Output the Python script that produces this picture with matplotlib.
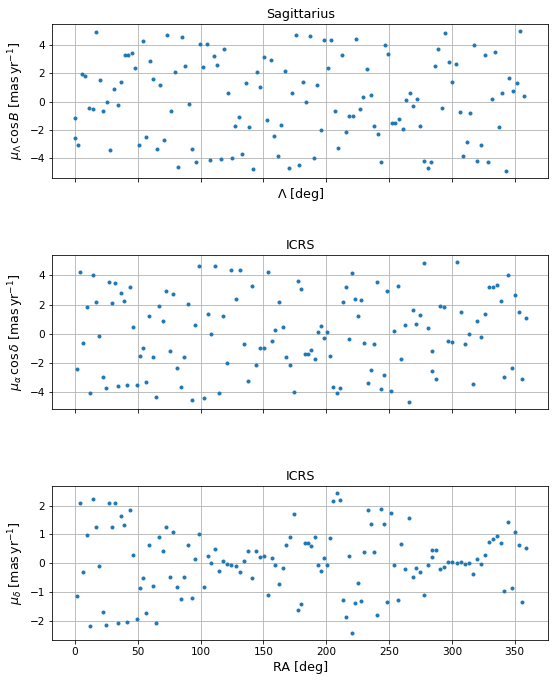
import numpy as np
import matplotlib
matplotlib.use('Agg')
import matplotlib.pyplot as plt

plt.rcParams['font.size'] = 10.5
plt.rcParams['axes.labelsize'] = 'large'
plt.rcParams['axes.titlesize'] = 'large'

# Sagittarius frame: Lambda positions (deg) and proper motion along Lambda
sgr_lambda = [
    0.00, 2.83, 5.67, 8.50, 11.34, 14.17, 17.01, 19.84, 22.68, 25.51,
    28.35, 31.18, 34.02, 36.85, 39.69, 42.52, 45.35, 48.19, 51.02, 53.86,
    56.69, 59.53, 62.36, 65.20, 68.03, 70.87, 73.70, 76.54, 79.37, 82.20,
    85.04, 87.87, 90.71, 93.54, 96.38, 99.21, 102.05, 104.88, 107.72, 110.55,
    113.39, 116.22, 119.06, 121.89, 124.72, 127.56, 130.39, 133.23, 136.06, 138.90,
    141.73, 144.57, 147.40, 150.24, 153.07, 155.91, 158.74, 161.57, 164.41, 167.24,
    170.08, 172.91, 175.75, 178.58, 181.42, 184.25, 187.09, 189.92, 192.76, 195.59,
    198.43, 201.26, 204.09, 206.93, 209.76, 212.60, 215.43, 218.27, 221.10, 223.94,
    226.77, 229.61, 232.44, 235.28, 238.11, 240.94, 243.78, 246.61, 249.45, 252.28,
    255.12, 257.95, 260.79, 263.62, 266.46, 269.29, 272.13, 274.96, 277.80, 280.63,
    283.46, 286.30, 289.13, 291.97, 294.80, 297.64, 300.47, 303.31, 306.14, 308.98,
    311.81, 314.65, 317.48, 320.31, 323.15, 325.98, 328.82, 331.65, 334.49, 337.32,
    340.16, 342.99, 345.83, 348.66, 351.50, 354.33, 357.17, 0.00,
]
sgr_pm_lambda = [
    -1.18, -3.10, 1.96, 1.80, -0.47, -0.54, 4.92, 1.51, -0.69, -0.05,
    -3.46, 0.88, -0.26, 1.37, 3.29, 3.29, 3.43, 2.37, -3.10, 4.28,
    -2.53, 2.86, 1.59, -3.38, 1.16, -2.75, 4.71, -0.69, 2.08, -4.66,
    4.57, 2.51, -0.19, -3.38, -4.31, 4.07, 2.44, 4.07, -4.17, 3.22,
    2.58, -4.09, 3.72, 0.59, -4.02, -1.75, -1.11, -3.74, 1.30, -1.82,
    -4.80, 2.08, 1.02, 3.15, -1.33, 2.93, -2.46, -3.88, -1.68, 2.15,
    -4.73, 0.59, 4.71, -4.52, 1.37, -0.05, 4.64, -4.02, 1.16, -2.04,
    4.36, 2.37, 4.36, -0.69, -3.31, 3.29, -2.18, -1.04, -1.04, 4.43,
    -0.54, 0.31, 2.30, 0.45, -1.75, -2.32, -4.31, 4.00, 3.36, -1.54,
    -1.54, -1.25, -1.96, 0.09, 0.59, -0.33, 0.17, -1.75, -4.24, -4.73,
    -4.31, 2.51, 3.72, -0.47, 4.85, 2.79, 1.37, 2.65, -0.76, -3.88,
    -2.89, -0.83, 4.00, -4.24, -3.10, 3.29, -4.31, 0.17, 3.50, -1.82,
    0.59, -4.95, 1.66, 0.73, 1.30, 4.99, 0.38, -2.60,
]

# same stars in ICRS
icrs_ra = [
    1.6, 4.0, 6.3, 9.5, 11.9, 14.3, 16.7, 19.0, 22.2, 24.6,
    27.0, 29.4, 31.7, 34.1, 36.5, 38.9, 41.3, 43.7, 46.0, 49.2,
    51.6, 54.0, 56.3, 58.7, 61.9, 64.3, 66.7, 69.8, 72.2, 75.4,
    77.8, 81.0, 84.1, 86.5, 89.7, 92.9, 96.0, 99.2, 102.4, 105.6,
    108.7, 111.9, 114.8,
    118.0, 121.2, 124.4, 128.4, 131.6, 134.8, 138.0, 141.2, 144.4, 147.6,
    150.8, 154.0, 157.2, 159.6, 162.8, 166.0, 168.4, 171.6, 174.0, 177.2,
    179.6, 182.8, 185.2, 187.6, 190.8, 193.2, 195.6, 198.0, 200.4, 202.8,
    205.2, 208.4, 210.8, 213.2, 215.6, 218.0, 220.4, 222.8, 225.2, 227.6,
    230.0, 233.2, 235.6, 238.0, 240.4, 243.6, 246.0, 248.4,
    251.6, 254.0, 257.1, 259.5, 262.7, 265.9, 269.0, 271.4, 274.6, 277.8,
    281.0, 284.1, 284.1, 287.3, 290.5, 293.7, 296.8, 300.0, 304.0, 307.1,
    310.3, 313.5, 316.7, 319.8, 323.0, 326.2, 329.4, 332.5, 335.7, 338.9,
    341.3, 344.4, 347.6, 350.0, 353.2, 355.6, 358.7,
]
icrs_pm_ra_cosdec = [
    -2.42, 4.22, -0.64, 1.82, -4.06, 4.01, 2.17, -0.16, -2.96, -3.72,
    3.53, 2.10, 3.46, -3.58, 2.78, 2.23, -3.51, 3.19, 0.46, -3.51,
    -1.53, -0.98, -3.30, 1.21, -1.60, -4.33, 1.89, 0.87, 2.92, -1.19,
    2.71, -2.35, -3.65, -1.60, 2.03, -4.54, 0.59, 4.63, -4.40, 1.34,
    -0.02, 4.63, -4.06,
    1.21, -2.00, 4.35, 2.37, 4.35, -0.71, -3.24, 3.26, -2.14, -0.98,
    -0.98, 4.22, -0.50, 0.25, 2.17, 0.46, -1.60, -2.14, -3.99, 3.60,
    3.05, -1.39, -1.39, -1.12, -1.73, 0.11, 0.52, -0.30, 0.11, -1.53,
    -3.65, -4.06, -3.72, 2.17, 3.19, -0.36, 4.15, 2.37, 1.21, 2.30,
    -0.64, -3.37, -2.48, -0.71, 3.53, -3.78, -2.82, 2.92,
    -3.92, 0.18, 3.26, -1.73, 0.59, -4.67, 1.62, 0.66, 1.28, 4.83,
    0.39, -1.19, -2.55, -3.10, 1.89, 1.82, -0.50, -0.57, 4.90, 1.48,
    -0.71, -0.02, -3.44, 0.87, -0.23, 1.34, 3.19, 3.19, 3.33, 2.23,
    -2.96, 4.01, -2.35, 2.64, 1.48, -3.10, 1.07,
]
icrs_pm_dec = [
    -1.13, 2.09, -0.30, 0.98, -2.17, 2.22, 1.26, -0.09, -1.68, -2.13,
    2.09, 1.26, 2.09, -2.06, 1.64, 1.33, -2.03, 1.84, 0.29, -1.93,
    -0.85, -0.51, -1.72, 0.63, -0.78, -2.06, 0.91, 0.43, 1.26, -0.47,
    1.08, -0.82, -1.23, -0.47, 0.63, -1.20, 0.15, 1.01, -0.82, 0.25,
    0.01, 0.50, -0.27,
    0.08, -0.02, -0.06, -0.09, -0.30, 0.08, 0.43, -0.51, 0.43, 0.22,
    0.25, -1.10, 0.18, -0.06, -0.71, -0.16, 0.63, 0.91, 1.71, -1.61,
    -1.41, 0.70, 0.70, 0.60, 0.91, -0.06, -0.27, 0.18, -0.06, 0.88,
    2.16, 2.43, 2.19, -1.27, -1.86, 0.25, -2.41, -1.37, -0.68, -1.30,
    0.39, 1.84, 1.36, 0.39, -1.79, 1.88, 1.36, -1.34,
    1.74, -0.06, -1.27, 0.67, -0.20, 1.57, -0.47, -0.16, -0.30, -1.10,
    -0.06, 0.22, 0.46, 0.46, -0.20, -0.13, 0.05, 0.05, 0.01, 0.05,
    -0.02, 0.01, -0.37, 0.15, -0.02, 0.29, 0.74, 0.84, 0.95, 0.70,
    -0.96, 1.43, -0.85, 1.08, 0.63, -1.34, 0.53,
]

fig, axes = plt.subplots(3, 1, figsize=(556 / 72, 686 / 72), dpi=72, sharex=True)
fig.subplots_adjust(left=0.094, right=0.986, top=0.9645, bottom=0.067, hspace=0.5)

axes[0].set_title("Sagittarius")
axes[0].plot(sgr_lambda, sgr_pm_lambda, linestyle='none', marker='.')
axes[0].set_xlabel(r"$\Lambda$ [deg]")
axes[0].set_ylabel(r"$\mu_\Lambda \, \cos B$ [$\mathrm{mas\,yr^{-1}}$]")

axes[1].set_title("ICRS")
axes[1].plot(icrs_ra, icrs_pm_ra_cosdec, linestyle='none', marker='.')
axes[1].set_ylabel(r"$\mu_\alpha \, \cos\delta$ [$\mathrm{mas\,yr^{-1}}$]")

axes[2].set_title("ICRS")
axes[2].plot(icrs_ra, icrs_pm_dec, linestyle='none', marker='.')
axes[2].set_xlabel("RA [deg]")
axes[2].set_ylabel(r"$\mu_\delta$ [$\mathrm{mas\,yr^{-1}}$]")

for ax in axes:
    ax.grid(True)

plt.savefig('out.png', dpi=72)
